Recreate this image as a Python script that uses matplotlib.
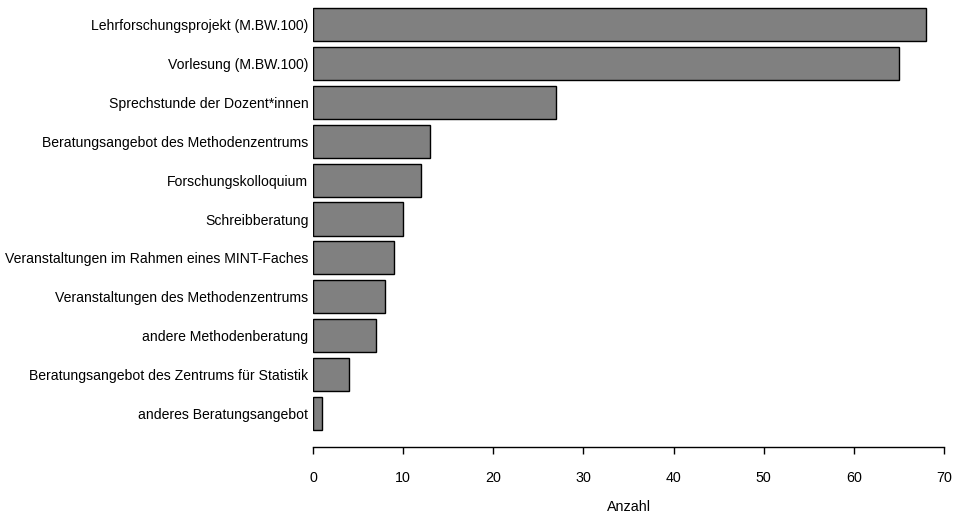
import matplotlib
matplotlib.use("Agg")
from matplotlib import pyplot as plt

plt.rcParams['font.family'] = ['Liberation Sans', 'DejaVu Sans']

categories = [
    "Lehrforschungsprojekt (M.BW.100)",
    "Vorlesung (M.BW.100)",
    "Sprechstunde der Dozent*innen",
    "Beratungsangebot des Methodenzentrums",
    "Forschungskolloquium",
    "Schreibberatung",
    "Veranstaltungen im Rahmen eines MINT-Faches",
    "Veranstaltungen des Methodenzentrums",
    "andere Methodenberatung",
    "Beratungsangebot des Zentrums für Statistik",
    "anderes Beratungsangebot",
]
counts = [68, 65, 27, 13, 12, 10, 9, 8, 7, 4, 1]
xticks = [0, 10, 20, 30, 40, 50, 60, 70]

W, H = 959, 514
fig = plt.figure(figsize=(W / 100, H / 100), dpi=100)
ax = fig.add_axes([313 / W, 1 - 447 / H, (944 - 313) / W, 447 / H])

pos = list(range(len(categories)))
ax.barh(pos, counts, height=0.85, color="#808080", edgecolor="black", linewidth=1)

ax.set_xlim(0, 70)
ax.set_ylim(10.86, -0.63)
ax.set_yticks(pos)
ax.set_yticklabels(categories, fontsize=10.1)
ax.tick_params(axis="y", length=0, pad=3.3)
ax.set_xticks(xticks)
ax.tick_params(axis="x", length=5, width=1, pad=12, labelsize=10.3)

for s in ["top", "right", "left"]:
    ax.spines[s].set_visible(False)
ax.spines["bottom"].set_linewidth(1)

fig.text((313 + 944) / 2 / W, 1 - 507 / H, "Anzahl", ha="center", va="center", fontsize=10.3)

fig.savefig("out.png", dpi=100)
